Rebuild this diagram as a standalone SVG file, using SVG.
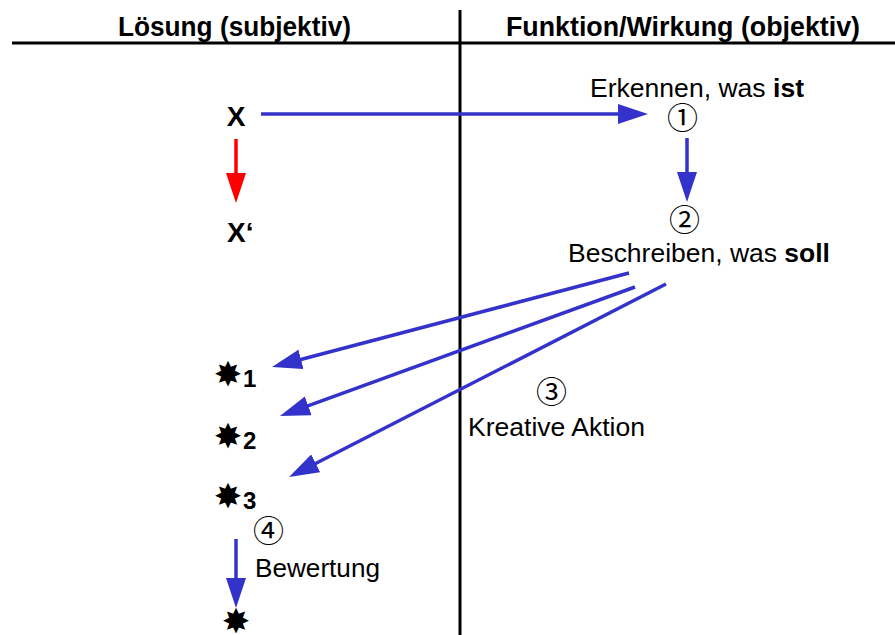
<svg xmlns="http://www.w3.org/2000/svg" width="895" height="635" viewBox="0 0 895 635">
  <style>
    .rule { stroke: #000; stroke-width: 3; fill: none; }
    .head { font-family: "Liberation Sans", Arial, sans-serif; font-weight: bold; font-size: 28px; fill: #000; }
    .lbl { font-family: "Liberation Sans", Arial, sans-serif; font-size: 25px; fill: #000; }
    .big { font-family: "Liberation Sans", Arial, sans-serif; font-weight: bold; font-size: 28px; fill: #000; }
    .num { font-family: "Noto Sans CJK JP", "DejaVu Sans", sans-serif; font-size: 31px; fill: #000; }
    .star { font-family: "DejaVu Sans", sans-serif; font-size: 34px; fill: #000; }
    .sub { font-family: "Liberation Sans", Arial, sans-serif; font-weight: bold; font-size: 24px; fill: #000; }
    .blue { stroke: #3333CC; stroke-width: 3.5; fill: none; marker-end: url(#ahBlue); }
    .red { stroke: #FF0000; stroke-width: 3.5; fill: none; marker-end: url(#ahRed); }
  </style>
  <defs>
    <marker id="ahBlue" markerUnits="userSpaceOnUse" markerWidth="30" markerHeight="20" refX="15" refY="10" orient="auto">
      <path d="M0,0 L30,10 L0,20 z" fill="#3333CC"/>
    </marker>
    <marker id="ahRed" markerUnits="userSpaceOnUse" markerWidth="30" markerHeight="20" refX="15" refY="10" orient="auto">
      <path d="M0,0 L30,10 L0,20 z" fill="#FF0000"/>
    </marker>
  </defs>

  <!-- table frame -->
  <g id="frame">
    <line class="rule" x1="12" y1="43" x2="895" y2="43"/>
    <line class="rule" x1="460" y1="10" x2="460" y2="635"/>
    <text class="head" x="118" y="36" textLength="233" lengthAdjust="spacingAndGlyphs">Lösung (subjektiv)</text>
    <text class="head" x="506" y="36" textLength="354" lengthAdjust="spacingAndGlyphs">Funktion/Wirkung (objektiv)</text>
  </g>

  <!-- left column -->
  <g id="x">
    <text class="big" x="236" y="126" text-anchor="middle">X</text>
  </g>
  <g id="x-prime">
    <text class="big" x="227" y="242">X‘</text>
  </g>
  <g id="idea1">
    <text class="star" x="228" y="386" text-anchor="middle">✸</text>
    <text class="sub" x="243" y="387">1</text>
  </g>
  <g id="idea2">
    <text class="star" x="228" y="448" text-anchor="middle">✸</text>
    <text class="sub" x="243" y="449">2</text>
  </g>
  <g id="idea3">
    <text class="star" x="228" y="508" text-anchor="middle">✸</text>
    <text class="sub" x="243" y="509">3</text>
  </g>
  <g id="result">
    <text class="star" x="236" y="633" text-anchor="middle">✸</text>
  </g>
  <g id="step4">
    <text class="num" x="268.5" y="542" text-anchor="middle">④</text>
    <text class="lbl" x="255" y="577" textLength="125" lengthAdjust="spacingAndGlyphs">Bewertung</text>
  </g>

  <!-- right column -->
  <g id="step1">
    <text class="lbl" x="590" y="97" textLength="214" lengthAdjust="spacingAndGlyphs">Erkennen, was <tspan font-weight="bold">ist</tspan></text>
    <text class="num" x="682.5" y="129" text-anchor="middle">①</text>
  </g>
  <g id="step2">
    <text class="num" x="684.5" y="231" text-anchor="middle">②</text>
    <text class="lbl" x="568" y="262" textLength="262" lengthAdjust="spacingAndGlyphs">Beschreiben, was <tspan font-weight="bold">soll</tspan></text>
  </g>
  <g id="step3">
    <text class="num" x="551.5" y="403" text-anchor="middle">③</text>
    <text class="lbl" x="468" y="436" textLength="177" lengthAdjust="spacingAndGlyphs">Kreative Aktion</text>
  </g>

  <!-- connectors -->
  <g id="connectors">
    <line class="blue" x1="261" y1="114" x2="633" y2="114"/>
    <line class="blue" x1="687" y1="138" x2="687" y2="187"/>
    <line class="red" x1="236" y1="139" x2="236" y2="188"/>
    <line class="blue" x1="629" y1="273" x2="286.5" y2="363.2"/>
    <line class="blue" x1="635" y1="287" x2="294.1" y2="410.9"/>
    <line class="blue" x1="666" y1="284" x2="302.4" y2="470.2"/>
    <line class="blue" x1="236" y1="539" x2="236" y2="593"/>
  </g>
</svg>
